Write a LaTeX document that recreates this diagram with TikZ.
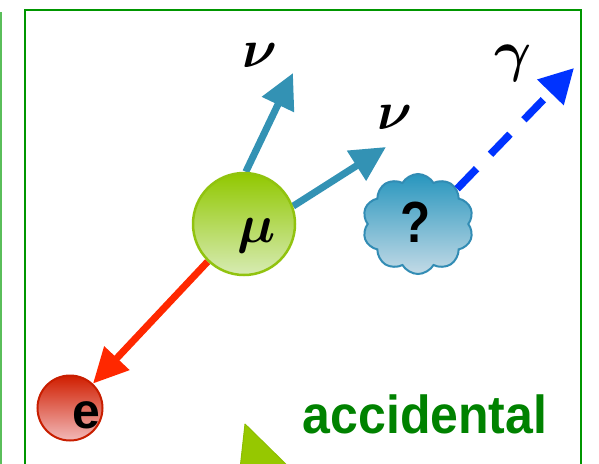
\RequirePackage{fix-cm}
\documentclass[tikz,border=0pt]{standalone}
\usepackage{fontspec}
\usepackage{amsmath}
\usetikzlibrary{arrows.meta,shapes.symbols}
\newfontfamily\lsans{Liberation Sans}
\definecolor{framegreen}{RGB}{0,150,0}
\definecolor{sidegreen}{RGB}{90,190,90}
\definecolor{textgreen}{RGB}{0,130,0}
\definecolor{teal}{RGB}{51,146,180}
\definecolor{redarr}{RGB}{255,40,0}
\definecolor{bluearr}{RGB}{0,51,255}
\definecolor{mutop}{RGB}{145,200,0}
\definecolor{mubot}{RGB}{215,235,180}
\definecolor{muedge}{RGB}{145,195,15}
\definecolor{etop}{RGB}{208,30,0}
\definecolor{ebot}{RGB}{242,185,185}
\definecolor{eedge}{RGB}{200,30,0}
\definecolor{cltop}{RGB}{40,150,190}
\definecolor{clbot}{RGB}{195,218,230}
\definecolor{cledge}{RGB}{50,140,180}
\definecolor{trifill}{RGB}{150,200,0}
\definecolor{triedge}{RGB}{140,190,0}
\pgfdeclarelayer{bg}
\pgfsetlayers{bg,main}
\begin{document}
\begin{tikzpicture}[x=1pt,y=-1pt,
  mucirc/.style={circle,draw=muedge,line width=2.5pt,minimum size=102pt,inner sep=0pt,
    top color=mutop,middle color=mutop,bottom color=mubot},
  ecirc/.style={circle,draw=eedge,line width=2pt,minimum size=65pt,inner sep=0pt,
    top color=etop,middle color=etop,bottom color=ebot},
  qcloud/.style={cloud,cloud puffs=10,cloud puff arc=120,aspect=1.1,draw=cledge,line width=2pt,
    minimum width=111pt,minimum height=100pt,inner sep=0pt,
    top color=cltop,middle color=cltop,bottom color=clbot},
  greek/.style={inner sep=0pt,font=\fontsize{54}{60}\selectfont},
  sanslab/.style={inner sep=0pt,font=\lsans\bfseries\fontsize{50}{60}\selectfont},
  nuarrow/.style={draw=teal,line width=7pt,-{Triangle[length=35pt,width=34pt]}},
  earrow/.style={draw=redarr,line width=7pt,-{Triangle[length=35pt,width=33pt]}},
  garrow/.style={draw=bluearr,line width=7.5pt,dash pattern=on 28pt off 20pt,-{Triangle[length=34pt,width=35pt]}}
]
\useasboundingbox (0,0) rectangle (599,463);
\clip (0,0) rectangle (599,463);
% frames
\draw[sidegreen,line width=1.6pt] (1,12) -- (1,480);
\draw[framegreen,line width=2.5pt] (25,10) rectangle (581,500);
% bottom triangle
\draw[triedge,fill=trifill,line width=1pt,line join=round] (245,424) -- (300,478) -- (239,478) -- cycle;
% particles
\node[mucirc] (mu) at (244,224) {};
\node[greek] (mulab) at (257,236) {$\boldsymbol{\mu}$};
\node[ecirc] (e) at (70,408) {};
\node[sanslab] (elab) at (86,415) {e};
\node[qcloud] (q) at (418,224) {};
\node[sanslab,font=\lsans\bfseries\fontsize{58}{64}\selectfont,xscale=0.85] (qlab) at (416,222) {?};
% free ends
\coordinate (nu1tip) at (293,73);
\coordinate (nu2tip) at (386,147);
\coordinate (gtip) at (574,68);
% arrows from the muon, behind it
\begin{pgfonlayer}{bg}
\draw[nuarrow] (mu.88) -- (nu1tip);
\draw[nuarrow] (mu.20) -- (nu2tip);
\draw[earrow] (mu.226) -- (e);
\end{pgfonlayer}
\draw[garrow] (q.42) -- (gtip);
% labels
\node[greek] (nu1) at (260,55) {$\boldsymbol{\nu}$};
\node[greek] (nu2) at (395,117) {$\boldsymbol{\nu}$};
\node[greek,font=\fontsize{57}{64}\selectfont] (gam) at (513,63) {$\boldsymbol{\gamma}$};
\node[sanslab,text=textgreen,anchor=base west,yscale=1.07] (acc) at (302.5,433) {accidental};
\end{tikzpicture}
\end{document}
